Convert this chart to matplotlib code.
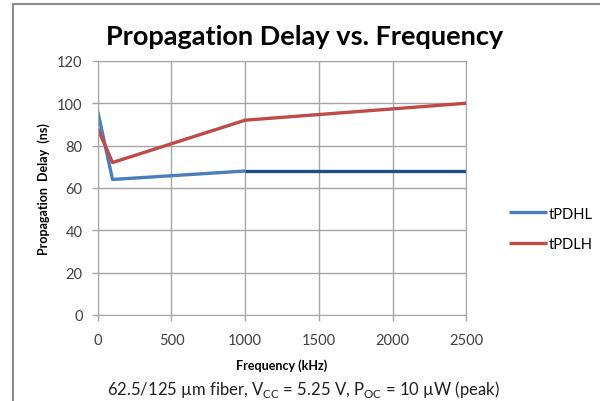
import matplotlib
matplotlib.use("Agg")
import matplotlib.pyplot as plt
from matplotlib.lines import Line2D

freq = [0, 100, 1000, 2500]
tpdhl = [96, 64, 68, 68]
tpdlh = [88, 72, 92, 100]
x_ticks = [0, 500, 1000, 1500, 2000, 2500]
y_ticks = [0, 20, 40, 60, 80, 100, 120]

plt.rcParams["font.family"] = ["Lato", "DejaVu Sans"]
plt.rcParams["mathtext.fontset"] = "custom"
plt.rcParams["mathtext.rm"] = "Lato"

blue = "#4A7EBB"
navy = "#1F4E85"
red = "#BE4B48"
grid_c = "#A6A6A6"
text_c = "#404040"

fig = plt.figure(figsize=(6, 4.02), dpi=100)
ax = fig.add_axes([0.163, 0.214, 0.614, 0.632])

# outer chart frame (cropped)
fig.add_artist(Line2D([13 / 600, 13 / 600], [0, 1 - 5 / 402], color="#8C8C8C", lw=1.5))
fig.add_artist(Line2D([13 / 600, 1], [1 - 5 / 402, 1 - 5 / 402], color="#8C8C8C", lw=1.5))

ax.plot(freq[:3], tpdhl[:3], color=blue, lw=2.4, label="tPDHL", solid_capstyle="butt")
ax.plot(freq[2:], tpdhl[2:], color=navy, lw=2.4, solid_capstyle="butt")
ax.plot(freq, tpdlh, color=red, lw=2.4, label="tPDLH", solid_capstyle="butt")

ax.set_xlim(0, 2500)
ax.set_ylim(0, 120)
ax.set_xticks(x_ticks)
ax.set_yticks(y_ticks)
ax.grid(True, color=grid_c, lw=1)
ax.set_axisbelow(True)
for s in ax.spines.values():
    s.set_color(grid_c)
ax.tick_params(axis="both", colors=grid_c, labelcolor=text_c, labelsize=10.5, length=4, width=1)
ax.tick_params(axis="x", pad=9)
ax.tick_params(axis="y", pad=7)

fig.text(305 / 600, 1 - 37 / 402, "Propagation Delay vs. Frequency",
         ha="center", va="center", fontsize=19.5, fontweight="bold")
ax.set_xlabel("Frequency (kHz)", fontsize=9, fontweight="bold", labelpad=8)
ax.set_ylabel("Propagation  Delay  (ns)", fontsize=9, fontweight="bold", labelpad=5)

leg = ax.legend(loc="center left", bbox_to_anchor=(1.08, 0.34), frameon=False,
                fontsize=10.5, handlelength=2.6, handletextpad=0.15, labelspacing=1.1)

fig.text(0.505, 1 - 390 / 402,
         r"62.5/125 µm fiber, V$_{\mathregular{CC}}$ = 5.25 V, P$_{\mathregular{OC}}$ = 10 µW (peak)",
         ha="center", va="center", fontsize=12, color="#202020")

fig.savefig("out.png", dpi=100)
